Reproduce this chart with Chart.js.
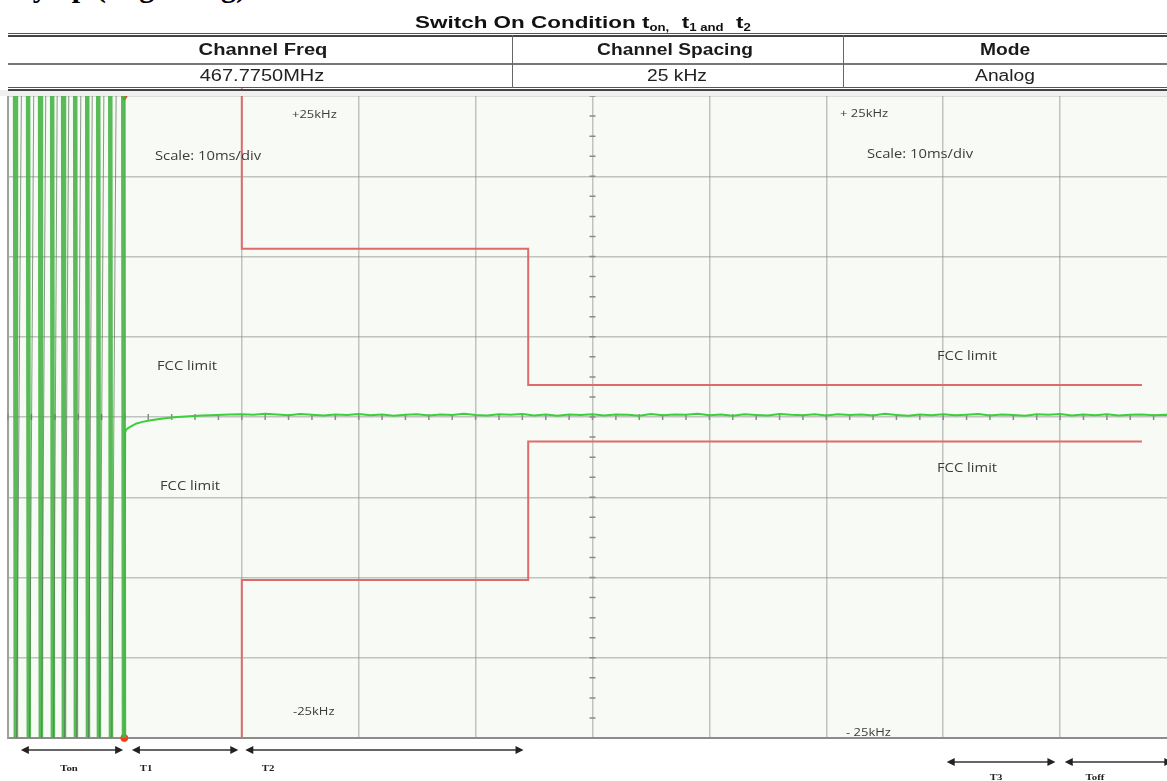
<!DOCTYPE html>
<html>
<head>
<meta charset="utf-8">
<script src="https://cdn.jsdelivr.net/npm/chart.js@4.4.0/dist/chart.umd.min.js"></script>
<style>
  html, body { margin: 0; padding: 0; background: #fff; }
  #page { position: relative; width: 1167px; height: 781px; overflow: hidden; background: #fff; }
  #plot { position: absolute; left: 0; top: 0; }
  .heading { position: absolute; left: -4px; top: -30px; line-height: 30px; font: bold 30px "Liberation Serif", serif; white-space: nowrap; color: #000; }
  .ln { position: absolute; background: #555; }
  .txt { position: absolute; white-space: nowrap; }
  .title { font: bold 17px "Liberation Sans", Arial, sans-serif; color: #111; }
  .title sub { font-size: 10px; vertical-align: -3px; }
  .hdr { font: bold 16px "Liberation Sans", Arial, sans-serif; color: #1a1a1a; }
  .val { font: 16px "Liberation Sans", Arial, sans-serif; color: #222; }
  .note { font: 12.5px "Open Sans", sans-serif; color: #3c3c3c; }
  .small { font: 11px "Open Sans", sans-serif; color: #3c3c3c; }
  .tlab { font: bold 9px "Liberation Serif", serif; color: #222; }
</style>
</head>
<body>
<div id="page">
  <div class="heading">Key up (Beginning)</div>
  <canvas id="plot" width="1183" height="781"></canvas>
</div>
<script>
// time axis in ms (10 ms/div), frequency deviation in kHz
const burstX = [0.6, 0.68, 1.2, 1.71, 1.79, 2.25, 2.74, 2.82, 3.28, 3.77, 3.85, 4.25,
  4.71, 4.79, 5.25, 5.74, 5.82, 6.28, 6.77, 6.85, 7.25, 7.71, 7.79, 8.25,
  8.74, 8.82, 9.3, 9.85, 9.93];
const burstY = [32, -32, 32, 32, -32, 32, 32, -32, 32, 32, -32, 32,
  32, -32, 32, 32, -32, 32, 32, -32, 32, 32, -32, 32,
  32, -32, 32, 32, -32];

const traceX = [9.93, 10.02, 10.1, 10.3, 10.6, 11.0, 11.5, 12.1, 12.8, 13.6, 14.5, 15.5, 16.6, 17.8, 19.0,
  20, 21, 22, 23, 24, 25, 26, 27, 28, 29, 30, 31, 32, 33, 34, 35, 36, 37, 38, 39,
  40, 41, 42, 43, 44, 45, 46, 47, 48, 49, 50, 51, 52, 53, 54, 55, 56, 57, 58, 59,
  60, 61, 62, 63, 64, 65, 66, 67, 68, 69, 70, 71, 72, 73, 74, 75, 76, 77, 78, 79,
  80, 81, 82, 83, 84, 85, 86, 87, 88, 89, 90, 91, 92, 93, 94, 95, 96, 97, 98, 99, 100];
const traceY = [-32, -1.2, -1.0, -0.85, -0.7, -0.5, -0.38, -0.28, -0.18, -0.08, 0.0, 0.06, 0.12, 0.16, 0.2,
  0.22, 0.17, 0.25, 0.19, 0.14, 0.23, 0.18, 0.11, 0.2, 0.16,
  0.24, 0.13, 0.19, 0.09, 0.17, 0.22, 0.12, 0.2, 0.16, 0.26,
  0.15, 0.11, 0.21, 0.17, 0.24, 0.12, 0.19, 0.1, 0.2, 0.15,
  0.22, 0.12, 0.2, 0.17, 0.1, 0.23, 0.14, 0.2, 0.17, 0.25,
  0.13, 0.19, 0.1, 0.22, 0.16, 0.12, 0.24, 0.17, 0.14, 0.21,
  0.11, 0.22, 0.15, 0.19, 0.12, 0.25, 0.16, 0.09, 0.2, 0.14,
  0.22, 0.13, 0.18, 0.23, 0.12, 0.19, 0.15, 0.1, 0.21, 0.17,
  0.24, 0.12, 0.19, 0.14, 0.22, 0.11, 0.18, 0.2, 0.14, 0.18, 0.16];

const limitUpX = [20, 20, 44.5, 44.5, 97];
const limitUpY = [25.6, 13.1, 13.1, 2.5, 2.5];
const limitLoX = [20, 20, 44.5, 44.5, 97];
const limitLoY = [-25, -12.7, -12.7, -1.9, -1.9];

const markerX = [9.95, 9.95];
const markerY = [25, -25];

// time intervals marked under the plot (ms)
const spanNames = ["Ton", "T1", "T2", "T3", "Toff"];
const spanFrom = [1.1, 10.6, 20.3, 80.3, 90.4];
const spanTo = [9.85, 19.7, 44.1, 89.6, 99.6];

const pts = (xs, ys) => xs.map((x, i) => ({ x: x, y: ys[i] }));

const page = document.getElementById("page");
function addText(html, x, y, cls, align, sx) {
  const d = document.createElement("div");
  d.className = "txt " + cls;
  d.innerHTML = html;
  d.style.left = x + "px";
  d.style.top = y + "px";
  if (align === "center") {
    d.style.transform = "translate(-50%, -50%) scaleX(" + sx + ")";
  } else {
    d.style.transformOrigin = "0 50%";
    d.style.transform = "translateY(-50%) scaleX(" + sx + ")";
  }
  page.appendChild(d);
}
function addLine(x, y, w, h, color) {
  const d = document.createElement("div");
  d.className = "ln";
  Object.assign(d.style, { left: x + "px", top: y + "px", width: w + "px", height: h + "px", background: color });
  page.appendChild(d);
}

// table above the plot
addLine(0, 90, 1167, 6, "#f0f0f0");
addLine(8, 33, 1159, 1, "#555");
addLine(8, 35, 1159, 1.5, "#444");
addLine(8, 63, 1159, 1.5, "#777");
addLine(8, 87, 1159, 1, "#555");
addLine(8, 89, 1159, 1.5, "#444");
addLine(511.5, 35, 1.5, 53, "#666");
addLine(842.5, 35, 1.5, 53, "#666");

addText("Switch On Condition t<sub>on,</sub>&nbsp; t<sub>1 and</sub>&nbsp; t<sub>2</sub>", 583, 23, "title", "center", 1.32);
addText("Channel Freq", 263, 50, "hdr", "center", 1.26);
addText("Channel Spacing", 675, 50, "hdr", "center", 1.2);
addText("Mode", 1005, 50, "hdr", "center", 1.2);
addText("467.7750MHz", 262, 76, "val", "center", 1.25);
addText("25 kHz", 677, 76, "val", "center", 1.2);
addText("Analog", 1005, 76, "val", "center", 1.2);

const notes = [
  ["+25kHz", 292, 113, "small"], ["Scale: 10ms/div", 155, 155, "note"],
  ["FCC limit", 157, 365, "note"], ["FCC limit", 160, 485, "note"],
  ["-25kHz", 293, 710, "small"], ["+ 25kHz", 840, 112, "small"],
  ["Scale: 10ms/div", 867, 153, "note"], ["FCC limit", 937, 355, "note"],
  ["FCC limit", 937, 467, "note"], ["- 25kHz", 846, 731, "small"]
];
notes.forEach(n => addText(n[0], n[1], n[2], n[3], "left", 1.18));

const spanLabelX = [69, 146, 268, 996, 1095];
const spanLabelY = [768, 768, 768, 777, 777];
spanNames.forEach((s, i) => addText(s, spanLabelX[i], spanLabelY[i], "tlab", "center", 1.2));

const scopePlugin = {
  id: "scope",
  beforeDraw(chart) {
    const { ctx, chartArea: a } = chart;
    ctx.save();
    ctx.fillStyle = "#f7faf5";
    ctx.fillRect(a.left, a.top, a.right - a.left, a.bottom - a.top);
    ctx.restore();
  },
  beforeDatasetsDraw(chart) {
    const { ctx, scales: { x, y } } = chart;
    const cx = x.getPixelForValue(50), cy = y.getPixelForValue(0);
    ctx.save();
    ctx.strokeStyle = "#8a8a8a";
    ctx.lineWidth = 1.5;
    ctx.beginPath();
    for (let v = -25; v <= 25; v += 1.5625) {
      const py = y.getPixelForValue(v);
      ctx.moveTo(cx - 3, py); ctx.lineTo(cx + 3, py);
    }
    for (let t = 0; t <= 100; t += 2) {
      const px = x.getPixelForValue(t);
      ctx.moveTo(px, cy - 3); ctx.lineTo(px, cy + 3);
    }
    ctx.stroke();
    ctx.restore();
  },
  afterDraw(chart) {
    const { ctx, chartArea: a, scales: { x } } = chart;
    ctx.save();
    ctx.strokeStyle = "#333";
    ctx.fillStyle = "#222";
    ctx.lineWidth = 1.5;
    spanNames.forEach((s, i) => {
      const x1 = x.getPixelForValue(spanFrom[i]);
      const x2 = x.getPixelForValue(spanTo[i]);
      const py = a.bottom + (i < 3 ? 12 : 24);
      ctx.beginPath();
      ctx.moveTo(x1 + 6, py); ctx.lineTo(x2 - 6, py);
      ctx.stroke();
      ctx.beginPath();
      ctx.moveTo(x1, py); ctx.lineTo(x1 + 8, py - 4); ctx.lineTo(x1 + 8, py + 4); ctx.closePath();
      ctx.moveTo(x2, py); ctx.lineTo(x2 - 8, py - 4); ctx.lineTo(x2 - 8, py + 4); ctx.closePath();
      ctx.fill();
    });
    ctx.restore();
  }
};

const gridStyle = { color: "rgba(140,140,140,0.5)", lineWidth: 1.5, drawTicks: false };

new Chart(document.getElementById("plot"), {
  type: "line",
  data: {
    datasets: [
      {
        data: pts(burstX, burstY),
        borderColor: "rgba(70,180,70,0.9)",
        borderWidth: 4.5,
        pointRadius: 0,
        tension: 0,
        segment: {
          borderColor: c => (c.p1.parsed.y > c.p0.parsed.y ? "rgba(90,110,90,0.7)" : undefined),
          borderWidth: c => (c.p1.parsed.y > c.p0.parsed.y ? 1 : undefined)
        }
      },
      {
        data: pts(traceX, traceY),
        borderColor: "#3ccf3c",
        borderWidth: 2,
        pointRadius: 0,
        tension: 0
      },
      {
        data: pts(limitUpX, limitUpY),
        borderColor: "#e06a6a",
        borderWidth: 2,
        pointRadius: 0,
        tension: 0,
        clip: { left: 0, top: 8, right: 0, bottom: 0 }
      },
      {
        data: pts(limitLoX, limitLoY),
        borderColor: "#e06a6a",
        borderWidth: 2,
        pointRadius: 0,
        tension: 0
      },
      {
        data: pts(markerX, markerY),
        showLine: false,
        pointStyle: ["triangle", "circle"],
        rotation: [180, 0],
        pointRadius: [5, 3.5],
        backgroundColor: "#f0401a",
        borderColor: "#f0401a",
        clip: false
      }
    ]
  },
  options: {
    responsive: false,
    animation: false,
    layout: { padding: { left: 8, top: 96, right: 1, bottom: 43 } },
    plugins: { legend: { display: false }, tooltip: { enabled: false } },
    scales: {
      x: {
        type: "linear", min: 0, max: 100,
        ticks: { display: false, stepSize: 10 },
        grid: gridStyle,
        border: { display: true, color: "#8c8c8c", width: 2 }
      },
      y: {
        type: "linear", min: -25, max: 25,
        ticks: { display: false, stepSize: 6.25 },
        grid: gridStyle,
        border: { display: true, color: "#a0a0a0", width: 2 }
      }
    }
  },
  plugins: [scopePlugin]
});
</script>
</body>
</html>
